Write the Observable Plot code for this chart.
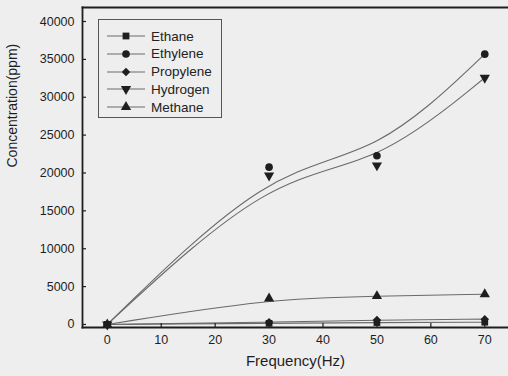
<!DOCTYPE html>
<html><head><meta charset="utf-8">
<script src="https://cdn.jsdelivr.net/npm/d3@7"></script>
<script src="https://cdn.jsdelivr.net/npm/@observablehq/plot@0.6"></script>
<style>
body{margin:0;background:#eeeeee;}
#wrap{position:relative;width:508px;height:376px;overflow:hidden;font-family:Arial,"Liberation Sans",sans-serif;color:#222;}
#legend{position:absolute;left:98px;top:19px;width:124px;height:99px;border:1px solid #555;box-sizing:border-box;}
#legend .row{position:absolute;left:0;height:18px;display:flex;align-items:center;font-size:13.5px;}
#legend .row span{margin-left:4px;}
</style>
</head><body><div id="wrap"><div id="legend"></div></div>
<script>
const frequency = [0, 30, 50, 70];
const ethane    = [0, 150, 250, 300];
const ethylene  = [0, 20770, 22270, 35690];
const propylene = [0, 300, 600, 700];
const hydrogen  = [0, 19670, 21000, 32570];
const methane   = [0, 3430, 3740, 4000];
const seriesNames = ["Ethane", "Ethylene", "Propylene", "Hydrogen", "Methane"];
const seriesValues = [ethane, ethylene, propylene, hydrogen, methane];
const seriesSymbols = ["square", "circle", "diamond2", "triangle", "triangle"];
const seriesRotate = [0, 0, 0, 180, 0];
const xTicks = [0, 10, 20, 30, 40, 50, 60, 70];
const yTicks = [0, 5000, 10000, 15000, 20000, 25000, 30000, 35000, 40000];

const rows = [];
seriesNames.forEach((name, i) => {
  frequency.forEach((f, j) => rows.push({series: name, x: f, y: seriesValues[i][j], symbol: seriesSymbols[i], rotate: seriesRotate[i]}));
});

const ink = "#1e1e1e";
const lineCol = "#6a6a6a";
const W = 508, H = 376, mL = 82, mT = 7, mB = 49, mR = 0;

const chart = Plot.plot({
  width: W, height: H,
  marginLeft: mL, marginTop: mT, marginBottom: mB, marginRight: mR,
  style: {background: "transparent", color: ink, fontFamily: "Arial, 'Liberation Sans', sans-serif"},
  x: {domain: [-4.6, 74.4]},
  y: {domain: [-400, 41850]},
  marks: [
    ...seriesNames.map(name => Plot.line(rows.filter(r => r.series === name), {x: "x", y: "y", curve: "basis", stroke: lineCol, strokeWidth: 1.1})),
    Plot.dot(rows, {x: "x", y: "y", symbol: "symbol", rotate: "rotate", r: 3.8, fill: ink, stroke: "none"}),
    Plot.axisX({ticks: xTicks, tickSize: 0, tickPadding: 8, fontSize: 12.5, label: null}),
    Plot.axisY({ticks: yTicks, tickSize: 0, tickPadding: 8, fontSize: 12.5, tickFormat: d => String(d), label: null}),
    Plot.tickX(xTicks, {x: d => d, insetTop: H - mT - mB - 4, stroke: ink, strokeWidth: 1.2}),
    Plot.tickY(yTicks, {y: d => d, insetRight: W - mL - mR - 4, stroke: ink, strokeWidth: 1.2}),
    Plot.frame({anchor: "left", stroke: ink, strokeWidth: 1.8}),
    Plot.frame({anchor: "top", stroke: ink, strokeWidth: 1.8}),
    Plot.frame({anchor: "bottom", stroke: ink, strokeWidth: 1.8}),
    Plot.text(["Frequency(Hz)"], {frameAnchor: "bottom", dy: 38, fontSize: 15, fill: ink}),
    Plot.text(["Concentration(ppm)"], {frameAnchor: "left", dx: -70, rotate: -90, fontSize: 14, fill: ink})
  ]
});
const wrap = document.getElementById("wrap");
wrap.insertBefore(chart, wrap.firstChild);

// legend
const legend = document.getElementById("legend");
seriesNames.forEach((name, i) => {
  const row = document.createElement("div");
  row.className = "row";
  row.style.top = (7 + i * 17.8) + "px";
  const svg = d3.create("svg").attr("width", 48).attr("height", 18);
  svg.append("line").attr("x1", 8).attr("x2", 46).attr("y1", 9).attr("y2", 9).attr("stroke", lineCol).attr("stroke-width", 1.1);
  const symMap = {square: d3.symbolSquare, circle: d3.symbolCircle, diamond2: d3.symbolDiamond2, triangle: d3.symbolTriangle};
  svg.append("path").attr("d", d3.symbol(symMap[seriesSymbols[i]], 46)())
     .attr("transform", `translate(27,9) rotate(${seriesRotate[i]})`).attr("fill", ink);
  row.appendChild(svg.node());
  const t = document.createElement("span");
  t.textContent = name;
  row.appendChild(t);
  legend.appendChild(row);
});
</script>
</body></html>
